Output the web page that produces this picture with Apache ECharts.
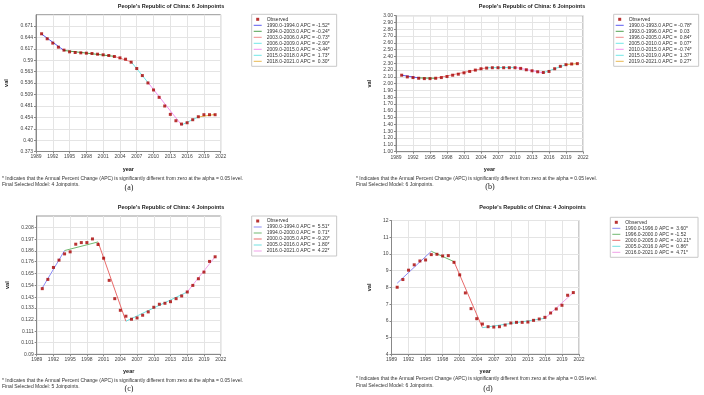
<!DOCTYPE html>
<html>
<head>
<meta charset="utf-8">
<script src="https://cdn.jsdelivr.net/npm/echarts@6/dist/echarts.min.js"></script>
<style>
body{margin:0;background:#fff;}
.panel{position:absolute;width:352px;height:198px;}
</style>
</head>
<body>
<div id="pa" class="panel" style="left:0;top:0"></div>
<div id="pb" class="panel" style="left:352px;top:0"></div>
<div id="pc" class="panel" style="left:0;top:197px"></div>
<div id="pd" class="panel" style="left:352px;top:197px"></div>
<script>
// years observed
var years = [1990,1991,1992,1993,1994,1995,1996,1997,1998,1999,2000,2001,2002,2003,2004,2005,
             2006,2007,2008,2009,2010,2011,2012,2013,2014,2015,2016,2017,2018,2019,2020,2021];

// observed values
var obsA = [0.6527,0.6408,0.6305,0.6209,0.6138,0.6098,0.6082,0.6074,0.6066,0.6058,0.6042,0.6027,0.6011,0.5987,0.5955,0.5923,
            0.5852,0.5701,0.5534,0.5359,0.5192,0.5017,0.4811,0.4612,0.4461,0.4382,0.4413,0.4485,0.4556,0.4604,0.4604,0.4604];
var obsB = [2.125,2.10,2.09,2.08,2.075,2.075,2.08,2.09,2.105,2.125,2.14,2.16,2.18,2.20,2.22,2.23,
            2.235,2.235,2.235,2.235,2.235,2.225,2.205,2.19,2.175,2.165,2.18,2.22,2.255,2.28,2.29,2.295];
var obsC = [0.1510,0.1596,0.1707,0.1775,0.1833,0.1852,0.1923,0.1938,0.1938,0.1972,0.1920,0.1793,0.1587,0.1417,0.1309,0.1254,
            0.1226,0.1238,0.1263,0.1294,0.1337,0.1365,0.1374,0.1389,0.1417,0.1442,0.1479,0.1540,0.1602,0.1664,0.1763,0.1806];
var obsD = [8.01,8.47,9.03,9.35,9.58,9.64,9.96,9.98,9.88,9.90,9.50,8.75,7.67,6.73,6.13,5.81,
            5.65,5.63,5.65,5.75,5.87,5.91,5.91,5.93,6.03,6.11,6.21,6.47,6.71,6.93,7.53,7.69];

// joinpoint segments: years, fitted values, APC text
var joinA = [1990,1994,2003,2006,2009,2015,2018,2021];
var fitA  = [0.652,0.613,0.599,0.586,0.537,0.436,0.455,0.461];
var apcA  = ['-1.52*','-0.24*','-0.73*','-2.90*','-3.44*','1.73*','0.30*'];

var joinB = [1990,1993,1996,2005,2010,2015,2019,2021];
var fitB  = [2.125,2.085,2.080,2.235,2.240,2.160,2.280,2.295];
var apcB  = ['-0.78*','0.03','0.84*','0.07*','-0.74*','1.37*','0.27*'];

var joinC = [1990,1994,2000,2005,2016,2021];
var fitC  = [0.1516,0.1864,0.1944,0.1207,0.1479,0.1806];
var apcC  = ['5.51*','0.71*','-9.20*','1.80*','4.22*'];

var joinD = [1990,1996,2000,2005,2016,2021];
var fitD  = [8.25,10.16,9.54,5.59,6.15,7.69];
var apcD  = ['3.60*','-1.52','-10.21*','0.86*','4.71*'];

// y tick labels
var yTicksA = [0.373,0.40,0.427,0.454,0.481,0.509,0.536,0.563,0.59,0.617,0.644,0.671];
var yLabelsA = ['0.373','0.40','0.427','0.454','0.481','0.509','0.536','0.563','0.59','0.617','0.644','0.671'];
var yTicksC = [0.09,0.101,0.111,0.122,0.133,0.143,0.154,0.165,0.176,0.186,0.197,0.208];
var yLabelsC = ['0.09','0.101','0.111','0.122','0.133','0.143','0.154','0.165','0.176','0.186','0.197','0.208'];

var note = '* Indicates that the Annual Percent Change (APC) is significantly different from zero at the alpha = 0.05 level.';
var font = 'Liberation Sans';

function segName(y0, y1, apc){
	return y0.toFixed(1) + '-' + y1.toFixed(1) + ' APC = ' + (apc.charAt(0) == '-' ? '' : ' ') + apc;
}

function buildOption(p){
	var series = [];
	// legend: small square for points, thin line for segments
	var legendData = [{name: 'Observed', icon: 'path://M0,0L1,0L1,1L0,1Z'}];
	for (var i = 0; i < p.join.length - 1; i++) {
		var nm = segName(p.join[i], p.join[i+1], p.apc[i]);
		legendData.push({name: nm, icon: 'path://M0,0L8,0L8,1L0,1Z'});
		series.push({
			name: nm, type: 'line', symbol: 'none', silent: true, z: 2,
			data: [[p.join[i], p.fit[i]], [p.join[i+1], p.fit[i+1]]],
			lineStyle: {color: p.colors[i], width: 1},
			itemStyle: {color: p.colors[i]}
		});
	}
	// observed points
	series.unshift({
		name: 'Observed', type: 'scatter', symbol: 'rect', symbolSize: 3, z: 3, silent: true,
		data: years.map(function(y, i){ return [y, p.obs[i]]; }),
		itemStyle: {color: '#a80000'}
	});

	var yAxis = {
		type: 'value', min: p.yMin, max: p.yMax,
		name: 'val', nameLocation: 'middle', nameGap: p.valGap,
		nameTextStyle: {fontFamily: font, fontWeight: 'bold', fontSize: 5.5, color: '#222'},
		axisLine: {show: true, lineStyle: {color: '#888'}},
		axisTick: {show: true, length: 2, lineStyle: {color: '#888'}},
		axisLabel: {fontFamily: font, fontSize: 5, color: '#444', margin: 3},
		splitLine: {show: true, lineStyle: {color: '#e4e4e4', width: 1}}
	};
	if (p.yTicks) {
		yAxis.axisTick.customValues = p.yTicks;
		yAxis.axisLabel.customValues = p.yTicks;
		yAxis.axisLabel.formatter = function(v){
			for (var k = 0; k < p.yTicks.length; k++) {
				if (Math.abs(p.yTicks[k] - v) < 1e-6) return p.yLabels[k];
			}
			return '';
		};
	} else {
		yAxis.interval = p.yInterval;
		yAxis.axisLabel.formatter = function(v){ return v.toFixed(p.yDigits); };
	}

	var txt = function(x, y, s, size, align, extra){
		var st = {text: s, fontFamily: font, fontSize: size, fill: '#222', align: align, verticalAlign: 'middle'};
		for (var k in extra) st[k] = extra[k];
		return {type: 'text', x: x, y: y, silent: true, style: st};
	};

	return {
		animation: false,
		grid: {left: p.grid[0], top: p.grid[1], width: p.grid[2], height: p.grid[3],
			show: true, borderColor: '#999', borderWidth: 1, outerBoundsMode: 'none', containLabel: false},
		xAxis: {
			type: 'value', min: 1989, max: 2022, interval: 3,
			name: 'year', nameLocation: 'middle', nameGap: p.yearGap,
			nameTextStyle: {fontFamily: font, fontWeight: 'bold', fontSize: 5.5, color: '#222'},
			axisLine: {show: true, lineStyle: {color: '#888'}},
			axisTick: {show: true, length: 2, lineStyle: {color: '#888'}},
			axisLabel: {fontFamily: font, fontSize: 5, color: '#444', margin: 3,
				formatter: function(v){ return String(v); }},
			splitLine: {show: true, lineStyle: {color: '#e4e4e4', width: 1}}
		},
		yAxis: yAxis,
		legend: {
			orient: 'vertical', left: p.leg[0], top: p.leg[1],
			padding: [2, 7, 2, 2], borderColor: '#c8c8c8', borderWidth: 1,
			itemGap: 0, itemWidth: 8, itemHeight: 3,
			selectedMode: false,
			textStyle: {fontFamily: font, fontSize: 5, color: '#333', lineHeight: 6},
			data: legendData
		},
		graphic: [
			txt(p.title[0], p.title[1], p.titleText, 5.5, 'center', {fontWeight: 'bold'}),
			txt(p.foot[0], p.foot[1], note, 5, 'left', {fill: '#333'}),
			txt(p.foot[0], p.foot[2], p.model, 5, 'left', {fill: '#333'}),
			txt(p.tag[0], p.tag[1], p.tagText, 8, 'center', {fontFamily: 'Liberation Serif'})
		],
		series: series
	};
}

var panels = [
	{el: 'pa', obs: obsA, join: joinA, fit: fitA, apc: apcA,
	 colors: ['#5a5af0','#50a050','#f08c8c','#70e8e8','#f090f0','#70e8e8','#e8b850'],
	 yMin: 0.373, yMax: 0.698, yTicks: yTicksA, yLabels: yLabelsA,
	 grid: [36, 14.7, 184.7, 136.8], leg: [251.7, 14.3], valGap: 23, yearGap: 14.5,
	 title: [171, 6], titleText: "People's Republic of China: 6 Joinpoints",
	 foot: [2, 178.7, 184.3], model: 'Final Selected Model: 4 Joinpoints.', tag: [129, 187.7], tagText: '(a)'},
	{el: 'pb', obs: obsB, join: joinB, fit: fitB, apc: apcB,
	 colors: ['#5a5af0','#50a050','#f08c8c','#70e8e8','#f090f0','#70e8e8','#e8b850'],
	 yMin: 1, yMax: 3, yInterval: 0.1, yDigits: 2,
	 grid: [44, 15.7, 187, 136], leg: [261.7, 14.3], valGap: 22, yearGap: 14.3,
	 title: [180, 6], titleText: "People's Republic of China: 6 Joinpoints",
	 foot: [4, 178.7, 184.3], model: 'Final Selected Model: 6 Joinpoints.', tag: [138, 187.3], tagText: '(b)'},
	{el: 'pc', obs: obsC, join: joinC, fit: fitC, apc: apcC,
	 colors: ['#8c8cf5','#70b870','#e86a6a','#70e0e0','#f0a0e8'],
	 yMin: 0.09, yMax: 0.2185, yTicks: yTicksC, yLabels: yLabelsC,
	 grid: [36.7, 19, 184, 138.3], leg: [251.7, 19], valGap: 23.5, yearGap: 13.7,
	 title: [171, 10], titleText: "People's Republic of China: 4 Joinpoints",
	 foot: [2, 183.3, 190], model: 'Final Selected Model: 5 Joinpoints.', tag: [129, 192], tagText: '(c)'},
	{el: 'pd', obs: obsD, join: joinD, fit: fitD, apc: apcD,
	 colors: ['#8c8cf5','#70b870','#e86a6a','#70e0e0','#f0a0e8'],
	 yMin: 4, yMax: 12, yInterval: 1, yDigits: 0,
	 grid: [39.5, 23.5, 187.5, 133.8], leg: [258.3, 20.3], valGap: 17.5, yearGap: 13.7,
	 title: [180.5, 10], titleText: "People's Republic of China: 4 Joinpoints",
	 foot: [4, 182, 189], model: 'Final Selected Model: 6 Joinpoints.', tag: [136, 192], tagText: '(d)'}
];

panels.forEach(function(p){
	var chart = echarts.init(document.getElementById(p.el));
	chart.setOption(buildOption(p));
});
</script>
</body>
</html>
